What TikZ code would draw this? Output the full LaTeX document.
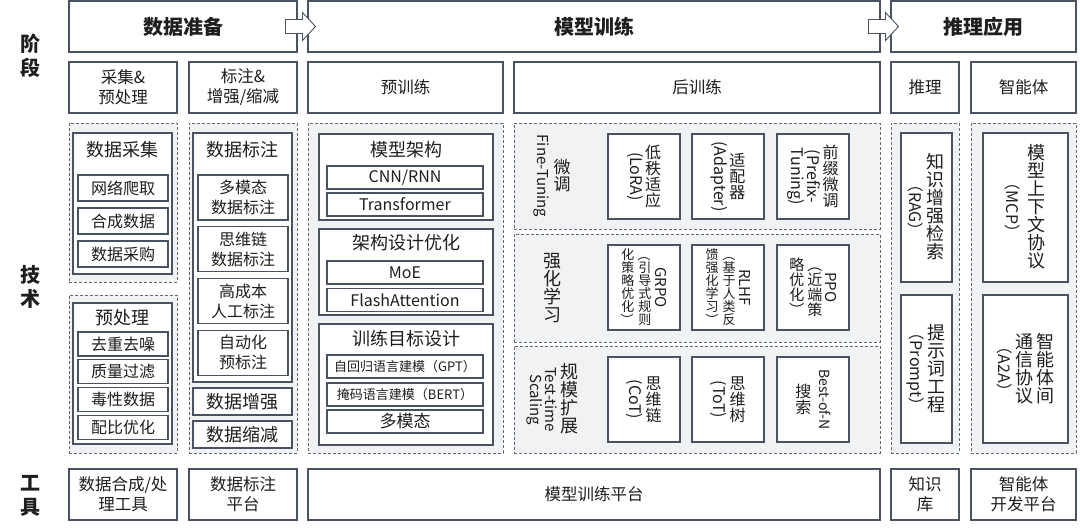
\documentclass[tikz,border=0pt]{standalone}
\usepackage{fontspec}
\setmainfont{Noto Sans CJK SC}
\usepackage{graphicx}
\usetikzlibrary{positioning,calc}

\definecolor{framegray}{HTML}{4A5261}
\definecolor{dashgray}{HTML}{626A78}
\definecolor{zonegray}{HTML}{F1F2F3}
\definecolor{inkblack}{HTML}{1E1E1E}

% vertical column of characters, and rotated latin text
\newcommand\vcstrut{\vrule height .86em depth .14em width 0pt}
\newcommand\vcol[1]{$\vcenter{\offinterlineskip\let\\\cr
  \halign{\hfil\vcstrut##\hfil\cr#1\crcr}}$}
\newcommand\rt[1]{\rotatebox[origin=c]{-90}{#1}}

\tikzset{
  boxsize/.style 2 args={minimum width=#1, minimum height=#2},
  stagebox/.style={draw=framegray, fill=white, line width=1.1pt, inner sep=0pt,
    text=inkblack, font=\fontsize{20}{24}\selectfont\bfseries},
  phasebox/.style={draw=framegray, fill=white, line width=1.1pt, inner sep=0pt,
    align=center, text=inkblack, font=\fontsize{16.5}{20}\selectfont},
  zone/.style={draw=dashgray, fill=zonegray, dash pattern=on 3pt off 2pt,
    line width=0.8pt, inner sep=0pt},
  grp/.style={draw=framegray, fill=white, line width=1.1pt, inner sep=0pt,
    text=inkblack, font=\fontsize{18}{20}\selectfont},
  grptitle/.style={inner sep=0pt, text=inkblack, font=\fontsize{18}{20}\selectfont},
  item/.style={draw=framegray, fill=white, line width=1.1pt, inner sep=0pt,
    align=center, text=inkblack, font=\fontsize{16}{20}\selectfont},
  vbox/.style={draw=framegray, fill=white, line width=1.1pt, inner sep=0pt,
    text=inkblack, font=\fontsize{16}{16.5}\selectfont},
  vlabel/.style={inner sep=0pt, text=inkblack, font=\fontsize{17}{18}\selectfont},
  rowlabel/.style={inner sep=0pt, align=center, text=inkblack,
    font=\fontsize{20}{24}\selectfont\bfseries},
  pics/stagearrow/.style={code={
    \draw[framegray, fill=white, line width=0.9pt, line join=miter]
      (-17,-7) -- (0,-7) -- (0,-14) -- (13,0) -- (0,14) -- (0,7) -- (-17,7) -- cycle;}}
}

\begin{document}
\begin{tikzpicture}[x=1pt,y=-1pt]
  \useasboundingbox (0,0) rectangle (1080,532);

  % row labels
  \node[rowlabel] (lstage) at (30,56) {阶\\段};
  \node[rowlabel] (ltech) at (30,287) {技\\术};
  \node[rowlabel] (ltool) at (30,496) {工\\具};

  % stages
  \node[stagebox, boxsize={228}{51}] (prep) at (183,26.5) {数据准备};
  \node[stagebox, boxsize={572}{51}] (train) at (594,26.5) {模型训练};
  \node[stagebox, boxsize={185}{51}] (apply) at (983.5,26.5) {推理应用};
  \pic at ($(prep.east)!0.5!(train.west)$) {stagearrow};
  \pic at ($(train.east)!0.5!(apply.west)$) {stagearrow};

  % phases
  \node[phasebox, boxsize={108}{51}] (collect) at (123,87.5) {采集\&\\预处理};
  \node[phasebox, boxsize={108}{51}] (label) at (243,87.5) {标注\&\\增强/缩减};
  \node[phasebox, boxsize={195}{51}] (pretrain) at (405.5,87.5) {预训练};
  \node[phasebox, boxsize={366}{51}] (posttrain) at (697,87.5) {后训练};
  \node[phasebox, boxsize={68}{51}] (infer) at (925,87.5) {推理};
  \node[phasebox, boxsize={105}{51}] (agent) at (1023.5,87.5) {智能体};

  % dashed zones
  \node[zone, boxsize={108}{159}] (zcollect) at (123,202.5) {};
  \node[zone, boxsize={108}{158}] (zclean) at (123,374) {};
  \node[zone, boxsize={108}{330}] (zlabel) at (243,288) {};
  \node[zone, boxsize={195}{330}] (zpre) at (405.5,288) {};
  \node[zone, boxsize={366}{106}] (zft) at (697,176) {};
  \node[zone, boxsize={366}{108}] (zrl) at (697,288) {};
  \node[zone, boxsize={366}{107}] (zts) at (697,399.5) {};
  \node[zone, boxsize={68}{330}] (zinf) at (925,288) {};
  \node[zone, boxsize={105}{330}] (zagt) at (1023.5,288) {};

  % data collection
  \node[grp, boxsize={99}{141}] (gcollect) at (122.5,203.5) {};
  \node[grptitle] (tcollect) at ($(gcollect.north)+(0,17)$) {数据采集};
  \foreach \t [count=\i] in {网络爬取,合成数据,数据采购}
    \node[item, boxsize={90}{26}] (c\i) at (123,155+33*\i) {\t};

  % preprocessing
  \node[grp, boxsize={99}{141}] (gclean) at (122.5,373.5) {};
  \node[grptitle] (tclean) at ($(gclean.north)+(0,15)$) {预处理};
  \foreach \t [count=\i] in {去重去噪,质量过滤,毒性数据,配比优化}
    \node[item, boxsize={90}{24}] (p\i) at (123,316.2+27.8*\i) {\t};

  % annotation
  \node[grp, boxsize={99}{249}] (glabel) at (242.5,257.5) {};
  \node[grptitle] (tlabel) at ($(glabel.north)+(0,17)$) {数据标注};
  \foreach \t [count=\i] in {多模态\\数据标注,思维链\\数据标注,高成本\\人工标注,自动化\\预标注}
    \node[item, boxsize={90}{45}] (a\i) at (243,145.8+51.7*\i) {\t};
  \node[grp, boxsize={99}{27}] (augment) at (242.5,401.5) {数据增强};
  \node[grp, boxsize={99}{27}] (reduce) at (242.5,434.5) {数据缩减};

  % pre-training
  \node[grp, boxsize={174}{86}] (garch) at (406,177) {};
  \node[grptitle] (tarch) at ($(garch.north)+(0,16)$) {模型架构};
  \node[item, boxsize={156}{23}] (cnn) at (405,177.5) {CNN/RNN};
  \node[item, boxsize={156}{23}] (tf) at (405,204.5) {Transformer};
  \node[grp, boxsize={174}{86}] (gopt) at (406,272) {};
  \node[grptitle] (topt) at ($(gopt.north)+(0,14)$) {架构设计优化};
  \node[item, boxsize={156}{23}] (moe) at (405,272.5) {MoE};
  \node[item, boxsize={156}{23}] (flash) at (405,300) {FlashAttention};
  \node[grp, boxsize={174}{121}] (gobj) at (406,384.5) {};
  \node[grptitle] (tobj) at ($(gobj.north)+(0,15)$) {训练目标设计};
  \node[item, boxsize={156}{23}, font=\fontsize{13}{16}\selectfont] (gpt) at (405,366.5) {自回归语言建模（GPT）};
  \node[item, boxsize={156}{23}, font=\fontsize{13}{16}\selectfont] (bert) at (405,394.5) {掩码语言建模（BERT）};
  \node[item, boxsize={156}{23}, font=\fontsize{17}{20}\selectfont] (mm) at (405,421.5) {多模态};

  % post-training: fine-tuning
  \node[vlabel] (lft) at (552,176) {\vcol{\rt{\fontsize{15}{16}\selectfont Fine-Tuning}}\hspace{5pt}\vcol{微\\调}};
  \node[vbox, boxsize={72}{85}] (lora) at (644,176.5) {\vcol{\rt{(LoRA)}}\hspace{2pt}\vcol{低\\秩\\适\\应}};
  \node[vbox, boxsize={72}{85}] (adapter) at (728,176.5) {\vcol{\rt{(Adapter)}}\hspace{2pt}\vcol{适\\配\\器}};
  \node[vbox, boxsize={72}{85}] (prefix) at (813,176.5) {\vcol{\rt{Tuning)}}\vcol{\rt{(Prefix-}}\hspace{2pt}\vcol{前\\缀\\微\\调}};

  % post-training: reinforcement learning
  \node[vlabel, font=\fontsize{18}{18.5}\selectfont] (lrl) at (552,288) {\vcol{强\\化\\学\\习}};
  \node[vbox, boxsize={72}{85}, font=\fontsize{13}{13.5}\selectfont] (grpo) at (644,287.5)
    {\vcol{化\\策\\略\\优\\化\\\rt{）}}\hspace{4pt}\vcol{\rt{（}\\引\\导\\式\\规\\则}\hspace{4pt}\vcol{\rt{\fontsize{15}{16}\selectfont GRPO}}};
  \node[vbox, boxsize={72}{85}, font=\fontsize{13}{13.5}\selectfont] (rlhf) at (728,287.5)
    {\vcol{馈\\强\\化\\学\\习\\\rt{）}}\hspace{4pt}\vcol{\rt{（}\\基\\于\\人\\类\\反}\hspace{4pt}\vcol{\rt{\fontsize{15}{16}\selectfont RLHF}}};
  \node[vbox, boxsize={72}{85}, font=\fontsize{15}{16}\selectfont] (ppo) at (813,287.5)
    {\vcol{略\\优\\化\\\rt{）}}\hspace{3pt}\vcol{\rt{（}\\近\\端\\策}\hspace{3pt}\vcol{\rt{PPO}}};

  % post-training: test-time scaling
  \node[vlabel, font=\fontsize{18}{18.5}\selectfont] (lts) at (552.5,399.5)
    {\vcol{\rt{\fontsize{15}{16}\selectfont Scaling}}\hspace{3pt}\vcol{\rt{\fontsize{15}{16}\selectfont Test-time}}\hspace{3pt}\vcol{规\\模\\扩\\展}};
  \node[vbox, boxsize={72}{85}] (cot) at (644,399.5) {\vcol{\rt{(CoT)}}\hspace{3pt}\vcol{思\\维\\链}};
  \node[vbox, boxsize={72}{85}] (tot) at (728,399.5) {\vcol{\rt{(ToT)}}\hspace{3pt}\vcol{思\\维\\树}};
  \node[vbox, boxsize={72}{85}] (bon) at (813,399.5) {\vcol{搜\\索}\hspace{8pt}\vcol{\rt{\fontsize{14}{15}\selectfont Best-of-N}}};

  % inference
  \node[vbox, boxsize={51}{149}, font=\fontsize{18}{18.5}\selectfont] (rag) at (926.5,207.5)
    {\vcol{\rt{\fontsize{16}{17}\selectfont （RAG）}}\hspace{3pt}\vcol{知\\识\\增\\强\\检\\索}};
  \node[vbox, boxsize={51}{148}, font=\fontsize{18}{18.5}\selectfont] (prompt) at (926.5,369)
    {\vcol{\rt{\fontsize{16}{17}\selectfont （Prompt）}}\hspace{3pt}\vcol{提\\示\\词\\工\\程}};

  % agents
  \node[vbox, boxsize={85}{149}, font=\fontsize{18}{18.5}\selectfont] (mcp) at (1025.5,207.5)
    {\vcol{\rt{\fontsize{16}{17}\selectfont （MCP）}}\hspace{7pt}\vcol{模\\型\\上\\下\\文\\协\\议}};
  \node[vbox, boxsize={85}{148}, font=\fontsize{18}{18.5}\selectfont] (a2a) at (1025.5,369)
    {\vcol{\rt{\fontsize{16}{17}\selectfont （A2A）}}\hspace{3pt}\vcol{通\\信\\协\\议}\hspace{3pt}\vcol{智\\能\\体\\间}};

  % tools
  \node[phasebox, boxsize={108}{51}] (synth) at (123,494.5) {数据合成/处\\理工具};
  \node[phasebox, boxsize={108}{51}] (annoplat) at (243,494.5) {数据标注\\平台};
  \node[phasebox, boxsize={572}{51}] (trainplat) at (594,494.5) {模型训练平台};
  \node[phasebox, boxsize={68}{51}] (kb) at (925,494.5) {知识\\库};
  \node[phasebox, boxsize={105}{51}] (devplat) at (1023.5,494.5) {智能体\\开发平台};
\end{tikzpicture}
\end{document}
